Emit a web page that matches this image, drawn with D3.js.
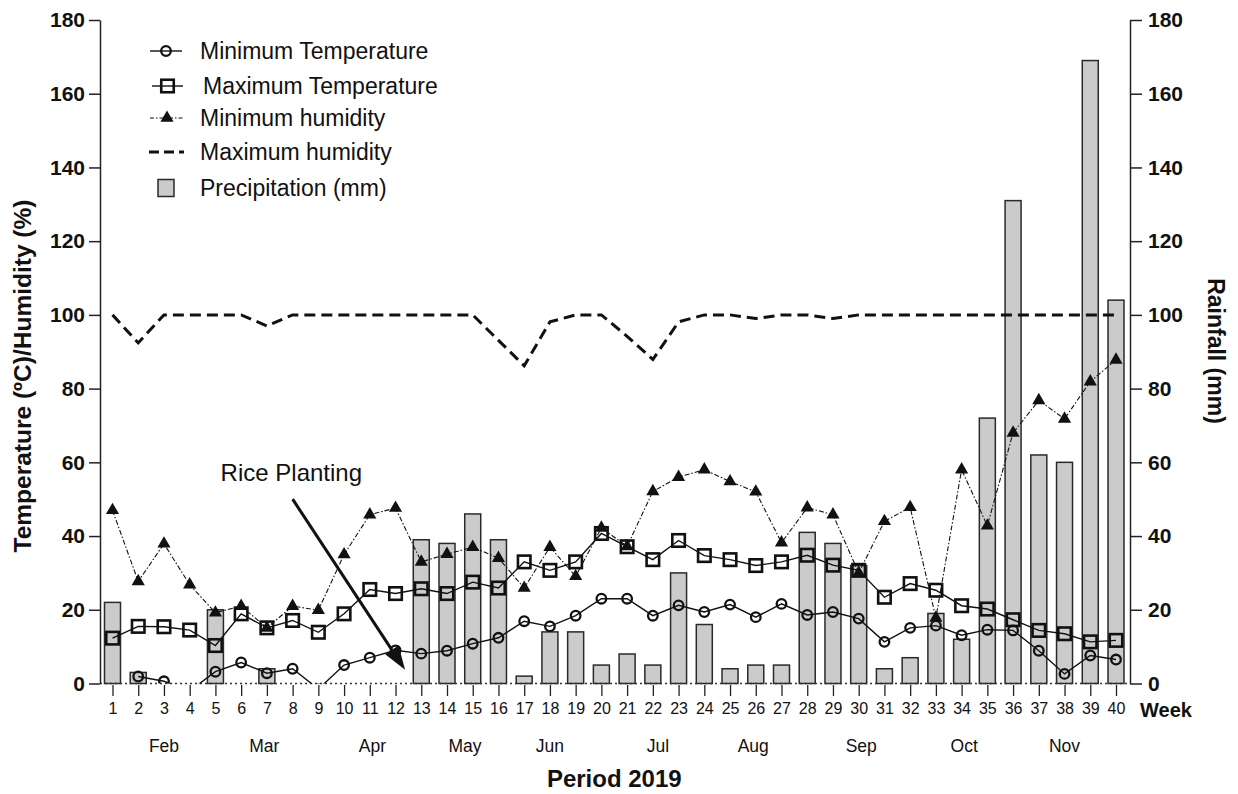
<!DOCTYPE html>
<html>
<head>
<title>Weather 2019</title>
<script src="https://cdnjs.cloudflare.com/ajax/libs/d3/7.8.5/d3.min.js"></script>
<style>
  body { margin: 0; background: #fff; }
  text { font-family: "Liberation Sans", Arial, sans-serif; fill: #111; }
</style>
</head>
<body>
<script>

// weekly data, Feb - Nov 2019
var weeks = [1,2,3,4,5,6,7,8,9,10,11,12,13,14,15,16,17,18,19,20,
             21,22,23,24,25,26,27,28,29,30,31,32,33,34,35,36,37,38,39,40];

var minTemp = [null,1.9,0.6,-2,3.2,5.7,2.8,4.0,-1.5,5.0,7.0,9.0,8.1,8.9,10.8,12.4,16.9,15.5,18.4,23.0,
               23.0,18.4,21.2,19.4,21.4,18.0,21.6,18.6,19.4,17.6,11.3,15.1,15.7,13.1,14.6,14.4,8.9,2.6,7.6,6.5];

var maxTemp = [12.3,15.5,15.4,14.5,10.3,18.9,15.1,17.1,13.9,18.9,25.5,24.4,25.7,24.4,27.5,25.9,33.0,30.7,33.0,40.7,
               37.1,33.6,38.8,34.7,33.6,32.0,33.0,34.8,32.1,30.7,23.4,27.1,25.3,21.1,20.2,17.3,14.4,13.5,11.3,11.7];

var minHum = [47.0,27.7,37.9,26.8,19.2,21.0,15.1,21.0,19.9,35.0,45.8,47.6,33.0,35.1,37.0,34.0,25.9,37.0,29.1,42.2,
              37.2,52.1,56.0,58.0,54.8,52.0,38.2,47.7,45.8,30.0,44.0,47.8,17.8,58.0,42.8,68.0,76.8,71.8,81.9,87.8];

var maxHum = [100,92.4,100,100,100,100,97,100,100,100,100,100,100,100,100,93.1,86.2,98.1,100,100,
              94.2,87.9,98.1,100,100,99,100,100,99,100,100,100,100,100,100,100,100,100,100,100];

var rain = [22,3,0,0,20,0,4,0,0,0,0,0,39,38,46,39,2,14,14,5,
            8,5,30,16,4,5,5,41,38,32,4,7,19,12,72,131,62,60,169,104];

var months = ["Feb","Mar","Apr","May","Jun","Jul","Aug","Sep","Oct","Nov"];
var monthWeek = [3.0,6.9,11.1,14.7,18.0,22.2,25.9,30.1,34.1,38.0];

var yTicks = [0,20,40,60,80,100,120,140,160,180];

var legendLabels = ["Minimum Temperature","Maximum Temperature","Minimum humidity","Maximum humidity","Precipitation (mm)"];

// arrow annotation, in data units (week, value)
var arrowFrom = [8.0, 50.0], arrowTo = [12.37, 3.7];
var noteText = "Rice Planting", notePos = [7.95, 55.0];

var W = 1238, H = 794;
var margin = {top:20, right:108, bottom:110.5, left:100};
var w = W - margin.left - margin.right,
    h = H - margin.top - margin.bottom;

var svg = d3.select("body").append("svg")
    .attr("width", W).attr("height", H);

var g = svg.append("g")
    .attr("transform", "translate(" + margin.left + "," + margin.top + ")");

var x = d3.scaleLinear().domain([1,40]).range([12.5, 1016]);
var y = d3.scaleLinear().domain([0,180]).range([h, 0]);
var yR = d3.scaleLinear().domain([0,180]).range([h, 0]);

g.append("clipPath").attr("id","plot")
  .append("rect").attr("x",0).attr("y",-10).attr("width",w).attr("height",h+10);

var rows = weeks.map(function(wk,i){
  return {wk:wk, tmin:minTemp[i], tmax:maxTemp[i], hmin:minHum[i], hmax:maxHum[i], rain:rain[i]};
});

// bars
var barW = 16;
g.append("g").selectAll("rect")
  .data(rows.filter(function(d){ return d.rain > 0; }))
  .enter().append("rect")
  .attr("x", function(d){ return x(d.wk) - barW/2; })
  .attr("y", function(d){ return yR(d.rain); })
  .attr("width", barW)
  .attr("height", function(d){ return h - yR(d.rain); })
  .attr("fill", "#cbcbcb")
  .attr("stroke", "#2a2a2a")
  .attr("stroke-width", 1.5);

// dotted baseline
g.append("line")
  .attr("x1", 0).attr("x2", w)
  .attr("y1", h).attr("y2", h)
  .attr("stroke", "#333").attr("stroke-width", 1.6)
  .attr("stroke-dasharray", "2,3");

var series = g.append("g").attr("clip-path", "url(#plot)");

function lineFor(key){
  return d3.line()
    .defined(function(d){ return d[key] !== null; })
    .x(function(d){ return x(d.wk); })
    .y(function(d){ return y(d[key]); });
}

// max humidity dashed
series.append("path").datum(rows)
  .attr("d", lineFor("hmax"))
  .attr("fill","none").attr("stroke","#111")
  .attr("stroke-width", 3).attr("stroke-dasharray","11,6");

// min humidity dash-dot
series.append("path").datum(rows)
  .attr("d", lineFor("hmin"))
  .attr("fill","none").attr("stroke","#111")
  .attr("stroke-width", 1.1).attr("stroke-dasharray","5,2,1.5,2");

series.append("path").datum(rows)
  .attr("d", lineFor("tmax"))
  .attr("fill","none").attr("stroke","#111").attr("stroke-width", 1.4);

series.append("path").datum(rows)
  .attr("d", lineFor("tmin"))
  .attr("fill","none").attr("stroke","#111").attr("stroke-width", 1.4);

var tri = d3.symbol().type(d3.symbolTriangle).size(75);

series.selectAll(".tri")
  .data(rows).enter().append("path")
  .attr("class","tri")
  .attr("d", tri)
  .attr("transform", function(d){ return "translate(" + x(d.wk) + "," + y(d.hmin) + ")"; })
  .attr("fill","#111");

var sq = 12.5;
series.selectAll(".sq")
  .data(rows).enter().append("rect")
  .attr("class","sq")
  .attr("x", function(d){ return x(d.wk) - sq/2; })
  .attr("y", function(d){ return y(d.tmax) - sq/2; })
  .attr("width", sq).attr("height", sq)
  .attr("fill","none").attr("stroke","#111").attr("stroke-width", 2.6);

series.selectAll(".circ")
  .data(rows.filter(function(d){ return d.tmin !== null; }))
  .enter().append("circle")
  .attr("class","circ")
  .attr("cx", function(d){ return x(d.wk); })
  .attr("cy", function(d){ return y(d.tmin); })
  .attr("r", 4.8)
  .attr("fill","none").attr("stroke","#111").attr("stroke-width", 2.3);

// axes
var yAxisL = d3.axisLeft(y).tickValues(yTicks).tickSize(11).tickSizeOuter(0).tickPadding(4);
var yAxisR = d3.axisRight(yR).tickValues(yTicks).tickSize(12).tickSizeOuter(0).tickPadding(6);

var gl = g.append("g").call(yAxisL);
var gr = g.append("g").attr("transform","translate(" + w + ",0)").call(yAxisR);
[gl, gr].forEach(function(a){
  a.selectAll("path, line").attr("stroke","#222").attr("stroke-width",1.5);
  a.selectAll("text").attr("font-size",21).attr("font-weight","bold")
    .attr("font-family","'Liberation Sans', Arial, sans-serif").attr("fill","#111");
});

var xAxis = d3.axisBottom(x).tickValues(weeks).tickSize(11).tickPadding(7)
  .tickFormat(d3.format("d"));
var gx = g.append("g").attr("transform","translate(0," + (h + 1.5) + ")").call(xAxis);
gx.select(".domain").remove();
gx.selectAll("line").attr("stroke","#222").attr("stroke-width",1.3);
gx.selectAll("text").attr("font-size",16)
  .attr("font-family","'Liberation Sans', Arial, sans-serif").attr("fill","#111");

g.append("text")
  .attr("x", x(40) + 24).attr("y", h + 33)
  .attr("font-size", 20).attr("font-weight","bold")
  .text("Week");

g.selectAll(".month")
  .data(months).enter().append("text")
  .attr("class","month")
  .attr("x", function(d,i){ return x(monthWeek[i]); })
  .attr("y", h + 68)
  .attr("text-anchor","middle")
  .attr("font-size", 17.5)
  .text(function(d){ return d; });

g.append("text")
  .attr("x", (x(1) + x(40))/2).attr("y", h + 103)
  .attr("text-anchor","middle")
  .attr("font-size", 24).attr("font-weight","bold")
  .text("Period 2019");

// axis titles
svg.append("text")
  .attr("transform","translate(31,376) rotate(-90)")
  .attr("text-anchor","middle")
  .attr("font-size", 24.5).attr("font-weight","bold")
  .text("Temperature (ºC)/Humidity (%)");

svg.append("text")
  .attr("transform","translate(1208,351) rotate(90)")
  .attr("text-anchor","middle")
  .attr("font-size", 23).attr("font-weight","bold")
  .text("Rainfall (mm)");

// annotation
g.append("text")
  .attr("x", x(notePos[0])).attr("y", y(notePos[1]))
  .attr("text-anchor","middle")
  .attr("font-size", 24)
  .text(noteText);

var ax0 = x(arrowFrom[0]), ay0 = y(arrowFrom[1]),
    ax1 = x(arrowTo[0]), ay1 = y(arrowTo[1]);
var ang = Math.atan2(ay1 - ay0, ax1 - ax0);
var headL = 24, headW = 8;
var bx = ax1 - headL*Math.cos(ang), by = ay1 - headL*Math.sin(ang);
g.append("line")
  .attr("x1", ax0).attr("y1", ay0).attr("x2", bx).attr("y2", by)
  .attr("stroke","#111").attr("stroke-width",3);
g.append("path")
  .attr("d", "M" + ax1 + "," + ay1 +
             "L" + (bx + headW*Math.sin(ang)) + "," + (by - headW*Math.cos(ang)) +
             "L" + (bx - headW*Math.sin(ang)) + "," + (by + headW*Math.cos(ang)) + "Z")
  .attr("fill","#111");

// legend
var lg = svg.append("g");
var rowY = [51, 86, 118, 152, 188];
legendLabels.forEach(function(lab, i){
  var cy = rowY[i];
  lg.append("text").attr("x", i == 1 ? 203 : 200).attr("y", cy + 8)
    .attr("font-size", 23).text(lab);
  if (i == 0) {
    lg.append("line").attr("x1",150).attr("x2",182).attr("y1",cy).attr("y2",cy)
      .attr("stroke","#111").attr("stroke-width",1.4);
    lg.append("circle").attr("cx",166).attr("cy",cy).attr("r",4.8)
      .attr("fill","none").attr("stroke","#111").attr("stroke-width",2.3);
  } else if (i == 1) {
    lg.append("line").attr("x1",152).attr("x2",183).attr("y1",cy).attr("y2",cy)
      .attr("stroke","#111").attr("stroke-width",1.4);
    lg.append("rect").attr("x",167.5-sq/2).attr("y",cy-sq/2).attr("width",sq).attr("height",sq)
      .attr("fill","none").attr("stroke","#111").attr("stroke-width",2.6);
  } else if (i == 2) {
    lg.append("line").attr("x1",150).attr("x2",183).attr("y1",cy).attr("y2",cy)
      .attr("stroke","#111").attr("stroke-width",1.1).attr("stroke-dasharray","4,2,1.5,2");
    lg.append("path").attr("d", tri).attr("transform","translate(167," + cy + ")").attr("fill","#111");
  } else if (i == 3) {
    lg.append("line").attr("x1",149).attr("x2",184).attr("y1",cy).attr("y2",cy)
      .attr("stroke","#111").attr("stroke-width",3).attr("stroke-dasharray","10,5");
  } else {
    lg.append("rect").attr("x",158).attr("y",cy-8.5).attr("width",16).attr("height",17)
      .attr("fill","#cbcbcb").attr("stroke","#2a2a2a").attr("stroke-width",1.5);
  }
});

</script>
</body>
</html>
